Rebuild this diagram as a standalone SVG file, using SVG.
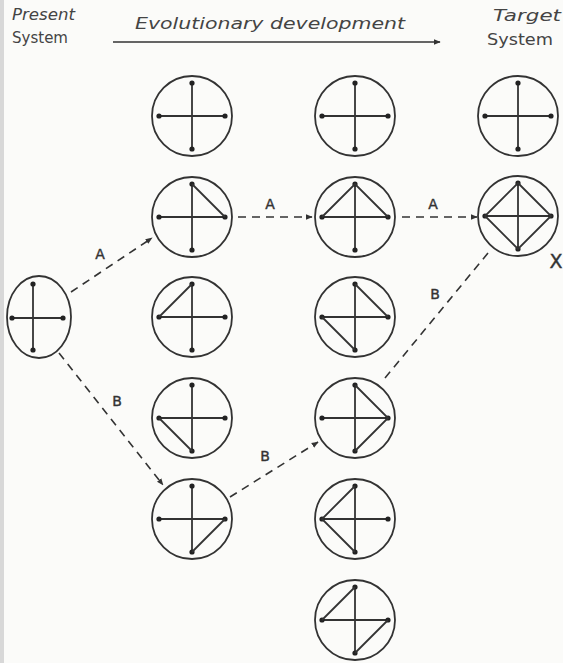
<svg xmlns="http://www.w3.org/2000/svg" xmlns:xlink="http://www.w3.org/1999/xlink" width="563" height="663" viewBox="0 0 563 663">
<style>
.ring{fill:none;stroke:#333;stroke-width:1.8}
.sp{stroke:#333;stroke-width:1.8;fill:none}
.dot{fill:#222}
.con{stroke:#333;stroke-width:1.6;fill:none;stroke-dasharray:8 6}
.lbl{font-family:"DejaVu Sans",sans-serif;font-size:14px;fill:#333;text-anchor:middle;stroke:#333;stroke-width:0.4}
.hd{font-family:"DejaVu Sans",sans-serif;font-size:15px;fill:#444}
</style>
<defs>
<marker id="ah" viewBox="0 0 10 10" refX="9" refY="5" markerWidth="7" markerHeight="7" orient="auto" markerUnits="userSpaceOnUse">
<path d="M0,1 L10,5 L0,9 z" fill="#333"/>
</marker>
<g id="cross">
<circle class="ring" cx="0" cy="0" r="40"/>
<line class="sp" x1="0" y1="-33" x2="0" y2="33"/>
<line class="sp" x1="-33" y1="0" x2="33" y2="0"/>
<circle class="dot" cx="0" cy="-33" r="2.6"/>
<circle class="dot" cx="0" cy="33" r="2.6"/>
<circle class="dot" cx="-33" cy="0" r="2.6"/>
<circle class="dot" cx="33" cy="0" r="2.6"/>
</g>
</defs>
<rect width="563" height="663" fill="#fbfbf9"/>
<rect width="4" height="663" fill="#d8d8d8"/>

<g id="header">
<text class="hd" x="12" y="20" font-style="italic" textLength="63" lengthAdjust="spacingAndGlyphs">Present</text>
<text class="hd" x="12" y="43" textLength="56" lengthAdjust="spacingAndGlyphs">System</text>
<text class="hd" x="135" y="29" style="font-size:16px;font-style:italic" textLength="270" lengthAdjust="spacingAndGlyphs">Evolutionary development</text>
<line x1="113" y1="42" x2="440" y2="42" stroke="#333" stroke-width="1.6" marker-end="url(#ah)"/>
<text class="hd" x="493" y="21" font-style="italic" textLength="68" lengthAdjust="spacingAndGlyphs">Target</text>
<text class="hd" x="487" y="45" textLength="66" lengthAdjust="spacingAndGlyphs">System</text>
</g>

<g id="present">
<ellipse class="ring" cx="39" cy="317" rx="32" ry="41"/>
<line class="sp" x1="33" y1="284" x2="33" y2="350"/>
<line class="sp" x1="12" y1="318" x2="63" y2="318"/>
<circle class="dot" cx="33" cy="284" r="2.6"/>
<circle class="dot" cx="33" cy="350" r="2.6"/>
<circle class="dot" cx="12" cy="318" r="2.6"/>
<circle class="dot" cx="63" cy="318" r="2.6"/>
</g>

<g id="c1r1" transform="translate(192,116)"><use xlink:href="#cross"/></g>
<g id="c1r2" transform="translate(192,217)"><use xlink:href="#cross"/><line class="sp" x1="0" y1="-33" x2="33" y2="0"/></g>
<g id="c1r3" transform="translate(192,317)"><use xlink:href="#cross"/><line class="sp" x1="0" y1="-33" x2="-33" y2="0"/></g>
<g id="c1r4" transform="translate(192,418)"><use xlink:href="#cross"/><line class="sp" x1="-33" y1="0" x2="0" y2="33"/></g>
<g id="c1r5" transform="translate(192,519)"><use xlink:href="#cross"/><line class="sp" x1="33" y1="0" x2="0" y2="33"/></g>

<g id="c2r1" transform="translate(355,116)"><use xlink:href="#cross"/></g>
<g id="c2r2" transform="translate(355,217)"><use xlink:href="#cross"/><path class="sp" d="M-33,0 L0,-33 L33,0"/></g>
<g id="c2r3" transform="translate(355,317)"><use xlink:href="#cross"/><line class="sp" x1="0" y1="-33" x2="33" y2="0"/><line class="sp" x1="-33" y1="0" x2="0" y2="33"/></g>
<g id="c2r4" transform="translate(355,418)"><use xlink:href="#cross"/><path class="sp" d="M0,-33 L33,0 L0,33"/></g>
<g id="c2r5" transform="translate(355,519)"><use xlink:href="#cross"/><path class="sp" d="M0,-33 L-33,0 L0,33"/></g>
<g id="c2r6" transform="translate(355,620)"><use xlink:href="#cross"/><line class="sp" x1="0" y1="-33" x2="-33" y2="0"/><line class="sp" x1="33" y1="0" x2="0" y2="33"/></g>

<g id="c3r1" transform="translate(518,116)"><use xlink:href="#cross"/></g>
<g id="c3r2" transform="translate(518,216)"><use xlink:href="#cross"/><path class="sp" d="M0,-33 L33,0 L0,33 L-33,0 Z"/></g>

<g id="connectors">
<line class="con" x1="71" y1="292" x2="152" y2="238" marker-end="url(#ah)"/>
<line class="con" x1="59" y1="353" x2="163" y2="485" marker-end="url(#ah)"/>
<line class="con" x1="238" y1="217" x2="312" y2="217" marker-end="url(#ah)"/>
<line class="con" x1="402" y1="217" x2="477" y2="217" marker-end="url(#ah)"/>
<line class="con" x1="230" y1="497" x2="318" y2="442" marker-end="url(#ah)"/>
<line class="con" x1="385" y1="378" x2="488" y2="253"/>
<text class="lbl" x="100" y="259">A</text>
<text class="lbl" x="117" y="406">B</text>
<text class="lbl" x="270" y="209">A</text>
<text class="lbl" x="433" y="209">A</text>
<text class="lbl" x="265" y="461">B</text>
<text class="lbl" x="435" y="299">B</text>
<text class="lbl" x="556" y="268" style="font-size:19px">X</text>
</g>
</svg>
